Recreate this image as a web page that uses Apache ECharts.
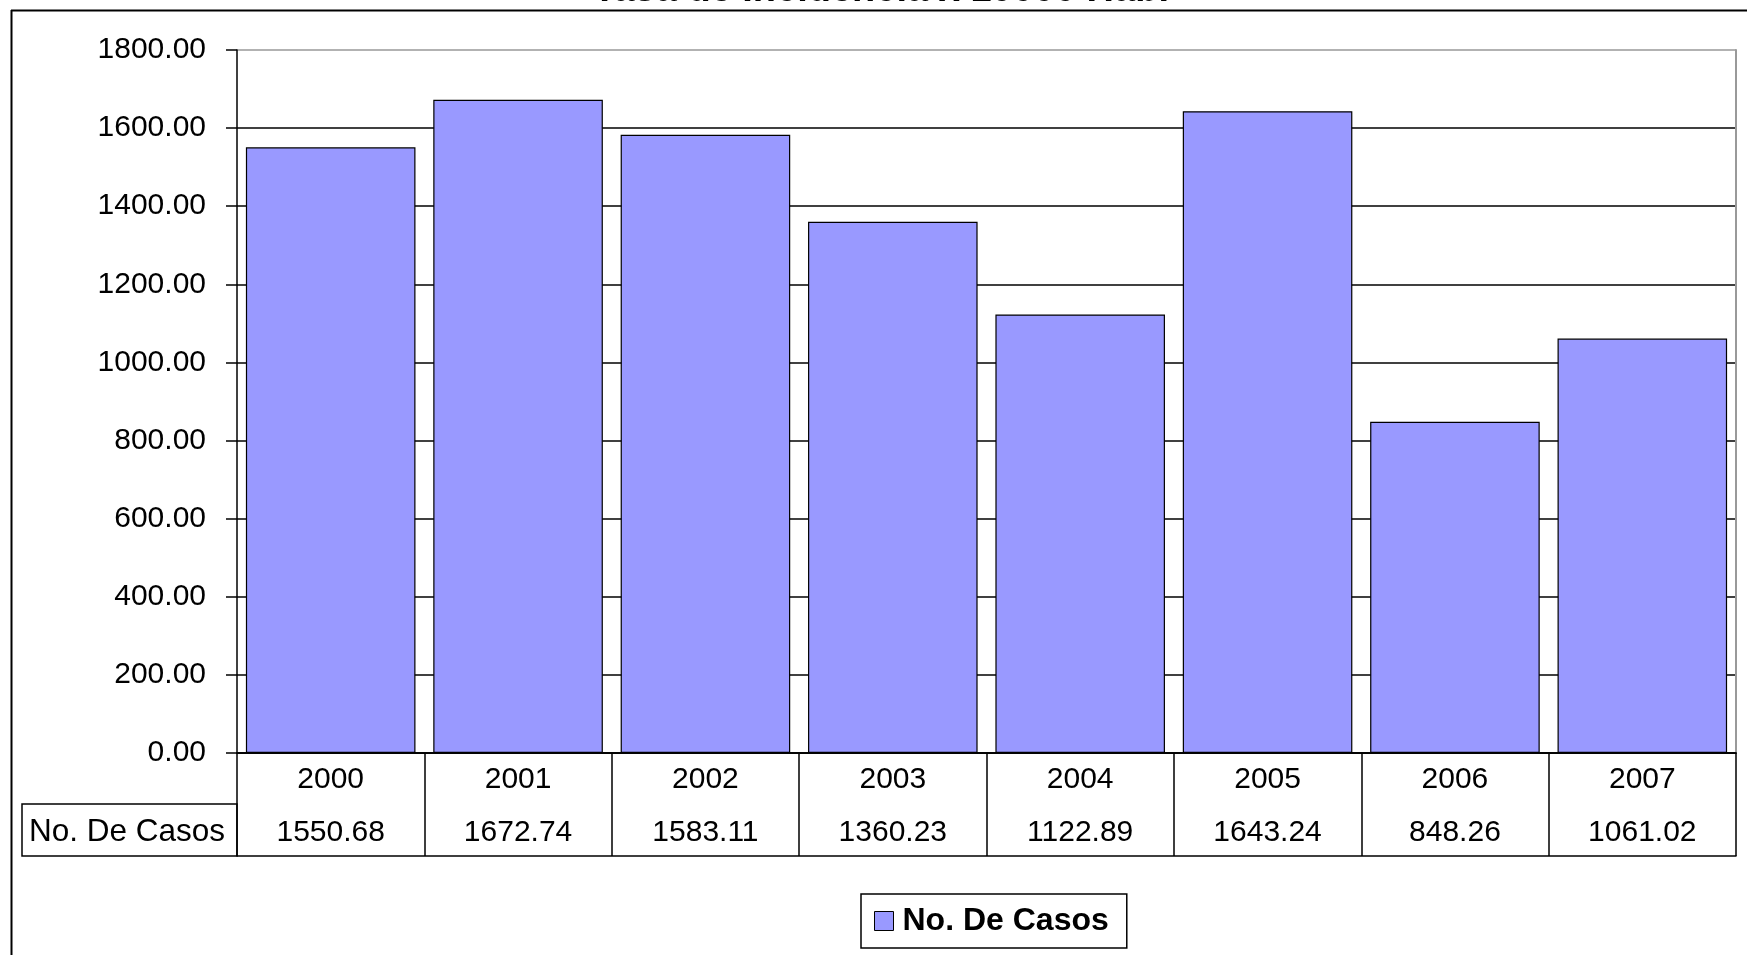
<!DOCTYPE html>
<html>
<head>
<meta charset="utf-8">
<title>Tasa de Incidencia x 10000 Hab.</title>
<script src="https://cdn.jsdelivr.net/npm/echarts@6/dist/echarts.min.js"></script>
<style>
  html, body { margin: 0; padding: 0; background: #fff; }
  #chart { width: 1747px; height: 955px; }
</style>
</head>
<body>
<div id="chart"></div>
<script>
// Incidence rate per 10,000 inhabitants, by year
const years = ['2000', '2001', '2002', '2003', '2004', '2005', '2006', '2007'];
const casos = [1550.68, 1672.74, 1583.11, 1360.23, 1122.89, 1643.24, 848.26, 1061.02];
const seriesName = 'No. De Casos';
const titleText = 'Tasa de Incidencia x 10000 Hab.';
const yTicks = { min: 0, max: 1800, interval: 200 };

const FONT = '"Liberation Sans", Arial, sans-serif';
const chart = echarts.init(document.getElementById('chart'), null, { renderer: 'canvas' });

// split line colours: black for every gridline, grey for the top border line
const nLines = (yTicks.max - yTicks.min) / yTicks.interval + 1;
const splitColors = Array.from({ length: nLines }, (_, i) => (i === nLines - 1 ? '#999999' : '#000000'));

const option = {
  animation: false,
  backgroundColor: '#ffffff',
  textStyle: { fontFamily: FONT },
  grid: { left: 237, right: 11, top: 50, bottom: 202, containLabel: false },
  legend: {
    data: [seriesName],
    left: 861,
    top: 894,
    icon: 'rect',
    itemWidth: 19,
    itemHeight: 19,
    borderColor: '#000',
    borderWidth: 1.5,
    padding: [11, 18, 11, 13],
    itemStyle: { borderColor: '#000', borderWidth: 1 },
    textStyle: { fontFamily: FONT, fontSize: 32, fontWeight: 'bold', color: '#000', lineHeight: 31, padding: [0, 0, 0, 4] }
  },
  xAxis: [
    {
      // year row of the data table
      type: 'category',
      data: years,
      position: 'bottom',
      axisLine: { show: true, lineStyle: { color: '#000', width: 1.5 } },
      axisTick: { show: true, alignWithLabel: false, length: 103, lineStyle: { color: '#000', width: 1.5 } },
      axisLabel: { margin: 12, fontFamily: FONT, fontSize: 30, lineHeight: 30, color: '#000' },
      splitLine: { show: false }
    },
    {
      // value row of the data table
      type: 'category',
      data: years,
      position: 'bottom',
      offset: 51,
      axisLine: { show: true, lineStyle: { color: '#000', width: 1.5 } },
      axisTick: { show: false },
      axisLabel: {
        margin: 14, fontFamily: FONT, fontSize: 30, lineHeight: 30, color: '#000',
        formatter: (v, i) => casos[i].toFixed(2)
      },
      splitLine: { show: false }
    },
    {
      // bottom edge of the data table
      type: 'category',
      data: years,
      position: 'bottom',
      offset: 103,
      axisLine: { show: true, lineStyle: { color: '#000', width: 1.5 } },
      axisTick: { show: false },
      axisLabel: { show: false },
      splitLine: { show: false }
    }
  ],
  yAxis: [
    {
      type: 'value',
      min: yTicks.min,
      max: yTicks.max,
      interval: yTicks.interval,
      axisLine: { show: true, lineStyle: { color: '#000', width: 1.5 } },
      axisTick: { show: true, inside: false, length: 11, lineStyle: { color: '#000', width: 1.5 } },
      axisLabel: {
        margin: 31, fontFamily: FONT, fontSize: 30, color: '#000',
        formatter: v => v.toFixed(2)
      },
      splitLine: { show: true, lineStyle: { color: splitColors, width: 1.5 } }
    },
    {
      // right border of the plot area
      type: 'value',
      position: 'right',
      min: yTicks.min,
      max: yTicks.max,
      interval: yTicks.interval,
      axisLine: { show: true, lineStyle: { color: '#999999', width: 2 } },
      axisTick: { show: false },
      axisLabel: { show: false },
      splitLine: { show: false }
    }
  ],
  series: [
    {
      name: seriesName,
      type: 'bar',
      xAxisIndex: 0,
      yAxisIndex: 0,
      data: casos,
      barCategoryGap: '9.5%',
      itemStyle: { color: '#9999FF', borderColor: '#000', borderWidth: 1.2 },
      emphasis: { disabled: true }
    }
  ],
  graphic: [
    // chart frame (left and top edges)
    { type: 'line', silent: true, shape: { x1: 11.5, y1: 10, x2: 11.5, y2: 955 }, style: { stroke: '#000', lineWidth: 2 } },
    { type: 'line', silent: true, shape: { x1: 11, y1: 10.5, x2: 1747, y2: 10.5 }, style: { stroke: '#000', lineWidth: 2 } },
    // title, clipped by the top of the canvas
    {
      type: 'text', silent: true, x: 881, y: -9,
      style: { text: titleText, align: 'center', verticalAlign: 'middle', font: 'bold 38px ' + FONT, fill: '#000' }
    },
    // row header cell of the data table
    { type: 'rect', silent: true, shape: { x: 22, y: 804, width: 215, height: 52 }, style: { fill: 'none', stroke: '#000', lineWidth: 1.5 } },
    {
      type: 'text', silent: true, x: 29, y: 832,
      style: { text: seriesName, align: 'left', verticalAlign: 'middle', font: '31.5px ' + FONT, fill: '#000' }
    }
  ]
};

chart.setOption(option);
</script>
</body>
</html>
